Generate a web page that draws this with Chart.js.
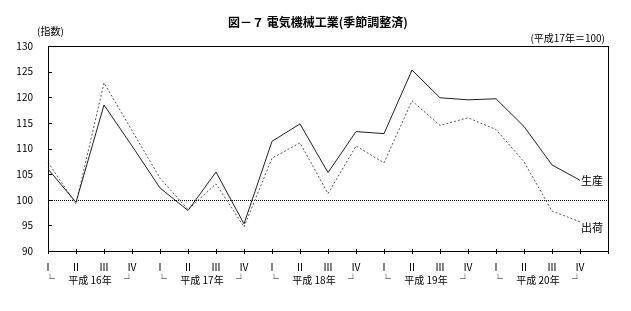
<!DOCTYPE html>
<html>
<head>
<meta charset="utf-8">
<script src="https://cdn.jsdelivr.net/npm/chart.js@4/dist/chart.umd.min.js"></script>
<style>
  body { margin: 0; background: #fff; }
  #wrap { width: 631px; height: 311px; }
</style>
</head>
<body>
<div id="wrap"><canvas id="chart" width="631" height="311"></canvas></div>
<script>
const years = ['平成 16年', '平成 17年', '平成 18年', '平成 19年', '平成 20年'];
const quarters = ['Ⅰ', 'Ⅱ', 'Ⅲ', 'Ⅳ'];
const production = [106.0, 99.5, 118.5, 110.5, 102.3, 97.9, 105.4, 95.3, 111.4, 114.8,
                    105.3, 113.3, 112.9, 125.3, 119.9, 119.5, 119.7, 114.3, 106.8, 103.8];
const shipments = [107.3, 99.2, 122.8, 113.5, 104.2, 98.1, 103.1, 94.7, 108.1, 111.1,
                   101.2, 110.5, 107.2, 119.3, 114.5, 116.0, 113.7, 107.4, 97.8, 95.7];
const yMin = 90, yMax = 130, yStep = 5, baseLine = 100;

const FONT = '"Noto Sans CJK JP", "Noto Sans", sans-serif';
const labels = years.flatMap(() => quarters).concat(['']);

const decorations = {
  id: 'decorations',
  beforeDatasetsDraw(chart) {
    const { ctx, chartArea: a, scales: { y } } = chart;
    const py = Math.round(y.getPixelForValue(baseLine)) + 0.5;
    ctx.save();
    ctx.strokeStyle = '#000';
    ctx.lineWidth = 1;
    ctx.setLineDash([1, 1]);
    ctx.beginPath();
    ctx.moveTo(a.left, py);
    ctx.lineTo(a.right, py);
    ctx.stroke();
    ctx.restore();
  },
  afterDraw(chart) {
    const { ctx, chartArea: a, scales: { x, y } } = chart;
    ctx.save();
    ctx.strokeStyle = '#000';
    ctx.lineWidth = 1;
    ctx.strokeRect(a.left + 0.5, a.top + 0.5, a.right - a.left, a.bottom - a.top);

    ctx.beginPath();
    for (let v = yMin + yStep; v < yMax; v += yStep) {
      const py = Math.round(y.getPixelForValue(v)) + 0.5;
      ctx.moveTo(a.left, py);
      ctx.lineTo(a.left + 4, py);
    }
    for (let i = 0; i < labels.length; i++) {
      const px = Math.round(x.getPixelForTick(i)) + 0.5;
      ctx.moveTo(px, a.bottom - 2);
      ctx.lineTo(px, a.bottom + 3);
    }
    ctx.stroke();

    // year row under the quarter labels
    ctx.fillStyle = '#000';
    ctx.font = '10px ' + FONT;
    ctx.textBaseline = 'middle';
    ctx.textAlign = 'center';
    const rowY = 280;
    years.forEach((yr, k) => {
      const x1 = x.getPixelForValue(4 * k);
      const x2 = x.getPixelForValue(4 * k + 1);
      const x3 = x.getPixelForValue(4 * k + 2);
      const x4 = x.getPixelForValue(4 * k + 3);
      ctx.fillText('└', x1 + 2, rowY - 1);
      ctx.fillText(yr, (x2 + x3) / 2, rowY);
      ctx.fillText('┘', x4 - 3, rowY - 1);
    });

    // series labels at the line ends
    ctx.textAlign = 'left';
    ctx.font = '11px ' + FONT;
    const pEnd = chart.getDatasetMeta(0).data[production.length - 1];
    const sEnd = chart.getDatasetMeta(1).data[shipments.length - 1];
    ctx.fillText('生産', pEnd.x + 1, pEnd.y + 1);
    ctx.fillText('出荷', sEnd.x + 1, sEnd.y + 6);

    // title and notes
    ctx.font = 'bold 12px ' + FONT;
    ctx.textAlign = 'center';
    ctx.fillText('図－７ 電気機械工業(季節調整済)', 318, 22);
    ctx.font = '10px ' + FONT;
    ctx.textAlign = 'left';
    ctx.fillText('(指数)', 37, 31);
    ctx.textAlign = 'right';
    ctx.fillText('(平成17年＝100)', 605, 38);
    ctx.restore();
  }
};

new Chart(document.getElementById('chart').getContext('2d'), {
  type: 'line',
  data: {
    labels: labels,
    datasets: [
      { label: '生産', data: production, borderColor: '#222', borderWidth: 1,
        pointRadius: 0, tension: 0, fill: false },
      { label: '出荷', data: shipments, borderColor: '#555', borderWidth: 1,
        borderDash: [2, 2], pointRadius: 0, tension: 0, fill: false }
    ]
  },
  options: {
    responsive: false,
    animation: false,
    layout: { padding: { top: 46, right: 23, left: 0, bottom: 0 } },
    plugins: { legend: { display: false }, tooltip: { enabled: false }, title: { display: false } },
    scales: {
      x: {
        type: 'category',
        offset: false,
        grid: { display: false, drawTicks: false },
        border: { display: false },
        ticks: { autoSkip: false, maxRotation: 0, color: '#000', padding: 10,
                 font: { size: 10, family: FONT } },
        afterFit(s) { s.height = 60; }
      },
      y: {
        min: yMin,
        max: yMax,
        grid: { display: false, drawTicks: false },
        border: { display: false },
        ticks: { stepSize: yStep, color: '#000', padding: 15,
                 font: { size: 10, family: FONT } },
        afterFit(s) { s.width = 48; }
      }
    }
  },
  plugins: [decorations]
});
</script>
</body>
</html>
